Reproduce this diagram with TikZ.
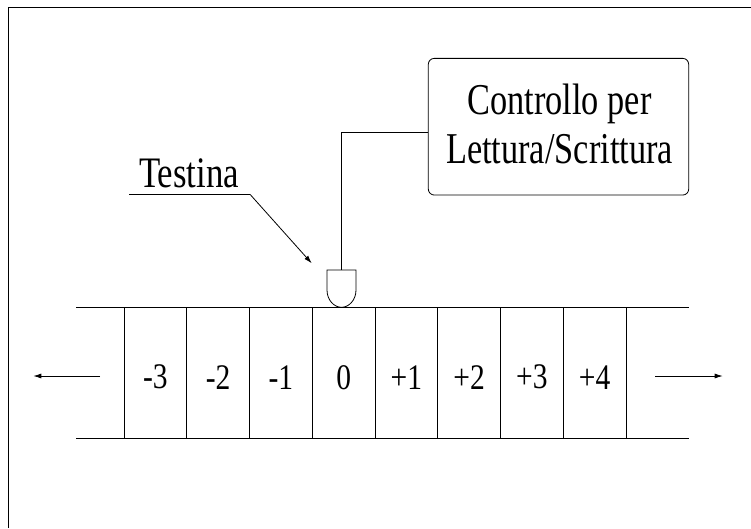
\documentclass[tikz,border=0pt]{standalone}
\usepackage{fontspec}
\setmainfont{Liberation Serif}
\newfontfamily\boxserif[FakeStretch=0.78]{Liberation Serif}
\newfontfamily\labelserif[FakeStretch=0.80]{Liberation Serif}
\newfontfamily\cellserif[FakeStretch=0.82]{Liberation Serif}
\usetikzlibrary{arrows.meta}

\begin{document}
\begin{tikzpicture}[x=1pt, y=-1pt, line width=0.8pt,
  cell/.style={draw, rectangle, minimum width=62.75pt, minimum height=131pt, inner sep=0pt},
  num/.style={inner sep=0pt, font=\cellserif\fontsize{36}{36}\selectfont},
  tip/.style={-{Latex[length=8pt,width=5pt]}},
  ctrlbox/.style={draw, rectangle, rounded corners=6pt, minimum width=260.4pt,
    minimum height=136.7pt, inner sep=0pt},
  ctrltext/.style={inner sep=0pt, align=center,
    font=\boxserif\fontsize{44}{49.3}\selectfont},
  headlabel/.style={inner sep=0pt, font=\labelserif\fontsize{43.5}{43.5}\selectfont}]

  % page area and frame (only the left and top edges fall on the page)
  \useasboundingbox (0,0) rectangle (751,528);
  \draw[line width=1.5pt] (8.3,528) -- (8.3,7.3) -- (751,7.3);

  % tape edges
  \coordinate (tl) at (76,307.3);
  \coordinate (tr) at (688.7,307.3);
  \coordinate (bl) at (76,438.3);
  \coordinate (br) at (688.7,438.3);
  \draw (tl) -- (tr);
  \draw (bl) -- (br);

  % tape cells and their numbers
  \foreach \lab [count=\i from 0] in {-3,-2,-1,0,+1,+2,+3,+4} {
    \node[cell] (c\i) at ({124+62.75*(\i+0.5)},372.8) {};
    \node[num] (n\i) at ([yshift=-4.4pt]c\i.center) {\lab};
  }

  % shift arrows
  \coordinate (la) at (100,376);
  \coordinate (lb) at (33.3,376);
  \coordinate (ra) at (655,376);
  \coordinate (rb) at (722.7,376);
  \draw[tip] (la) -- (lb);
  \draw[tip] (ra) -- (rb);

  % read/write head
  \coordinate (headtop) at (341.5,270);
  \draw (327,290) -- (327,270) -- (356,270) -- (356,290)
        .. controls (356,300) and (349,307.3) .. (341.5,307.3)
        .. controls (334,307.3) and (327,300) .. (327,290);

  % control unit and its link to the head
  \node[ctrlbox] (ctrl) at (558.5,126.7) {};
  \node[ctrltext] (ctrltxt) at ([xshift=1pt,yshift=2.7pt]ctrl.center) {Controllo per\\Lettura/Scrittura};
  \draw ([yshift=-5.6pt]ctrl.west) -| (headtop);

  % head label with leader
  \node[headlabel, anchor=base] (testina) at (189,187.3) {Testina};
  \coordinate (ul) at (129.3,194.3);
  \coordinate (ur) at (250,194.3);
  \coordinate (htip) at (311.7,263.3);
  \draw (ul) -- (ur);
  \draw[tip] (ur) -- (htip);
\end{tikzpicture}
\end{document}
